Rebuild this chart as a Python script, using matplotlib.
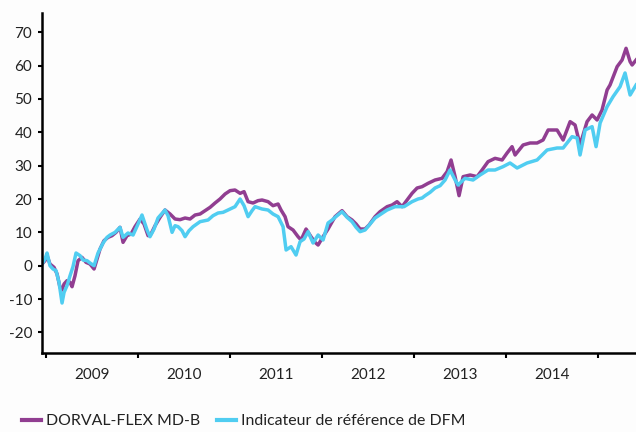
import matplotlib
matplotlib.use("Agg")
import matplotlib.pyplot as plt
import matplotlib.ticker as mticker
import pandas as pd
import numpy as np

plt.rcParams['font.family'] = ['Lato', 'DejaVu Sans']

# Decimal-year positions and cumulative performance (%)
fund_t = [2008.957, 2008.989, 2009.011, 2009.043, 2009.087, 2009.120, 2009.152, 2009.174,
          2009.196, 2009.228, 2009.261, 2009.283, 2009.315, 2009.348, 2009.391, 2009.435,
          2009.478, 2009.522, 2009.554, 2009.587, 2009.630, 2009.674, 2009.717, 2009.761,
          2009.804, 2009.837, 2009.880, 2009.924, 2009.967, 2010.022, 2010.065, 2010.109,
          2010.141, 2010.185, 2010.239, 2010.293, 2010.348, 2010.402, 2010.457, 2010.511,
          2010.565, 2010.620, 2010.674, 2010.728, 2010.783, 2010.837, 2010.891, 2010.946,
          2011.000, 2011.054, 2011.109, 2011.152, 2011.196, 2011.250, 2011.304, 2011.348,
          2011.413, 2011.467, 2011.522, 2011.554, 2011.598, 2011.630, 2011.685, 2011.739,
          2011.772, 2011.826, 2011.880, 2011.924, 2011.957, 2012.011, 2012.065, 2012.141,
          2012.217, 2012.272, 2012.326, 2012.370, 2012.413, 2012.467, 2012.511, 2012.576,
          2012.630, 2012.707, 2012.761, 2012.815, 2012.870, 2012.924, 2012.978, 2013.033,
          2013.087, 2013.152, 2013.228, 2013.304, 2013.359, 2013.402, 2013.446, 2013.489,
          2013.533, 2013.609, 2013.685, 2013.739, 2013.804, 2013.880, 2013.957, 2014.011,
          2014.065, 2014.098, 2014.185, 2014.261, 2014.337, 2014.402, 2014.457, 2014.554,
          2014.620, 2014.696, 2014.750, 2014.804, 2014.880, 2014.935, 2014.989, 2015.043,
          2015.098, 2015.130, 2015.207, 2015.261, 2015.304, 2015.348, 2015.370, 2015.413]
fund_v = [0.5, 1.5, 3.0, 0.5, -0.5, -2.5, -6.5, -7.3,
          -5.5, -4.5, -5.0, -6.3, -3.0, 1.5, 2.5, 1.0,
          0.5, -1.0, 2.0, 5.0, 7.5, 8.5, 9.0, 10.0,
          11.5, 7.0, 9.0, 9.5, 11.7, 14.0, 12.5, 9.0,
          9.5, 12.0, 14.5, 16.7, 15.5, 14.0, 13.8, 14.3,
          14.0, 15.2, 15.5, 16.5, 17.5, 18.8, 20.0, 21.5,
          22.5, 22.7, 21.7, 22.2, 19.2, 18.8, 19.5, 19.7,
          19.2, 18.0, 18.5, 16.7, 14.7, 11.7, 10.7, 8.7,
          7.7, 11.0, 8.7, 7.0, 6.2, 8.7, 11.0, 14.7,
          16.5, 14.7, 13.7, 12.5, 11.0, 11.0, 12.2, 14.7,
          16.2, 17.7, 18.2, 19.2, 17.7, 19.7, 21.7, 23.3,
          23.7, 24.7, 25.7, 26.2, 28.2, 31.7, 26.7, 21.0,
          26.7, 27.2, 26.7, 28.7, 31.2, 32.2, 31.7, 33.8,
          35.7, 33.2, 36.2, 36.8, 36.8, 37.7, 40.7, 40.7,
          37.7, 43.2, 42.2, 36.2, 43.2, 45.2, 43.7, 46.7,
          52.7, 54.2, 59.7, 61.7, 65.2, 61.2, 60.2, 61.7]

bench_t = [2008.957, 2008.989, 2009.011, 2009.043, 2009.076, 2009.109, 2009.141, 2009.174,
           2009.196, 2009.228, 2009.261, 2009.293, 2009.326, 2009.370, 2009.402, 2009.446,
           2009.478, 2009.522, 2009.565, 2009.620, 2009.663, 2009.696, 2009.750, 2009.804,
           2009.837, 2009.891, 2009.946, 2010.000, 2010.043, 2010.098, 2010.130, 2010.174,
           2010.217, 2010.293, 2010.326, 2010.370, 2010.402, 2010.435, 2010.478, 2010.511,
           2010.554, 2010.598, 2010.674, 2010.761, 2010.815, 2010.870, 2010.924, 2010.978,
           2011.054, 2011.109, 2011.152, 2011.196, 2011.239, 2011.272, 2011.348, 2011.413,
           2011.467, 2011.522, 2011.576, 2011.609, 2011.663, 2011.717, 2011.761, 2011.804,
           2011.848, 2011.902, 2011.957, 2012.011, 2012.065, 2012.109, 2012.163, 2012.217,
           2012.272, 2012.326, 2012.370, 2012.413, 2012.467, 2012.522, 2012.576, 2012.641,
           2012.707, 2012.793, 2012.891, 2012.978, 2013.043, 2013.087, 2013.120, 2013.174,
           2013.228, 2013.283, 2013.337, 2013.391, 2013.446, 2013.478, 2013.554, 2013.641,
           2013.717, 2013.804, 2013.880, 2013.967, 2014.043, 2014.120, 2014.228, 2014.337,
           2014.446, 2014.554, 2014.620, 2014.717, 2014.772, 2014.804, 2014.859, 2014.935,
           2014.978, 2015.022, 2015.098, 2015.163, 2015.239, 2015.293, 2015.348, 2015.413]
bench_v = [0.5, 2.0, 3.8, 0.0, -1.0, -1.5, -5.0, -11.2,
           -8.0, -6.0, -3.0, -0.3, 3.8, 3.0, 1.7, 1.5,
           0.8, 0.0, 3.8, 6.8, 8.5, 9.2, 10.0, 11.5,
           8.5, 9.8, 9.2, 12.5, 15.2, 10.7, 8.7, 11.0,
           14.3, 16.7, 15.0, 10.0, 12.0, 11.7, 10.5, 8.7,
           10.5, 11.7, 13.2, 13.7, 15.0, 15.8, 16.0, 16.7,
           17.7, 20.0, 18.0, 14.7, 16.5, 17.7, 17.0, 16.7,
           15.5, 14.7, 11.7, 4.7, 5.7, 3.2, 7.2, 8.0,
           10.2, 6.8, 9.2, 7.7, 12.8, 13.7, 15.0, 16.2,
           14.5, 13.2, 11.5, 10.2, 10.7, 12.5, 14.3, 15.5,
           16.7, 17.7, 17.7, 19.2, 20.0, 20.3, 21.0, 22.0,
           23.3, 24.0, 25.7, 28.7, 25.7, 24.2, 26.2, 25.7,
           27.2, 28.7, 28.7, 29.7, 30.8, 29.3, 30.8, 31.7,
           34.7, 35.3, 35.3, 38.7, 38.3, 33.2, 40.7, 41.7,
           35.7, 42.8, 47.7, 50.7, 53.7, 57.8, 51.2, 54.2]

series_names = ["DORVAL-FLEX MD-B", "Indicateur de référence de DFM"]
years = [2009, 2010, 2011, 2012, 2013, 2014]
y_ticks = [-20, -10, 0, 10, 20, 30, 40, 50, 60, 70]


def to_dates(t):
    t = np.asarray(t)
    base = pd.Timestamp("2009-01-01")
    return base + pd.to_timedelta((t - 2009) * 365.25, unit="D")


fig = plt.figure(figsize=(6.36, 4.32), dpi=100, facecolor="#fdfdfd")
ax = fig.add_axes([42 / 636, 1 - 352.7 / 432, 1 - 42 / 636, (352.7 - 13.3) / 432])
ax.set_facecolor("#fdfdfd")

ax.plot(to_dates(fund_t), fund_v, color="#913e91", lw=2.5, label=series_names[0])
ax.plot(to_dates(bench_t), bench_v, color="#50cdf1", lw=2.5, label=series_names[1])

ax.set_xlim(pd.Timestamp("2008-12-16"), pd.Timestamp("2015-06-01"))
ax.set_ylim(-26.1, 75.7)

for s in ["top", "right"]:
    ax.spines[s].set_visible(False)
for s in ["left", "bottom"]:
    ax.spines[s].set_linewidth(1.8)
    ax.spines[s].set_color("#000000")

ax.set_yticks(y_ticks)
ax.yaxis.set_major_formatter(mticker.FuncFormatter(lambda v, p: f"{int(v)}"))
ax.tick_params(axis="y", direction="out", length=3, width=1.5, pad=4,
               labelsize=11, colors="#000000", labelcolor="#222222")

major = [pd.Timestamp(f"{y}-01-01") for y in years + [years[-1] + 1]]
minor = [pd.Timestamp(f"{y}-07-02") for y in years]
ax.set_xticks(major)
ax.set_xticklabels([""] * len(major))
ax.set_xticks(minor, minor=True)
ax.set_xticklabels([str(y) for y in years], minor=True)
ax.tick_params(axis="x", which="major", direction="out", length=3.5, width=1.5, colors="#000000")
ax.tick_params(axis="x", which="minor", length=0, pad=11, labelsize=11, labelcolor="#222222")

handles, labels = ax.get_legend_handles_labels()
leg = fig.legend(handles, labels, loc="center left", bbox_to_anchor=(22 / 636, 1 - 421 / 432),
                 ncol=2, frameon=False, fontsize=11.4, handlelength=1.2, handletextpad=0.3,
                 columnspacing=1.1, borderpad=0, borderaxespad=0)
for line in leg.get_lines():
    line.set_linewidth(3.0)
for txt in leg.get_texts():
    txt.set_color("#222222")

fig.savefig("out.png", dpi=100, facecolor=fig.get_facecolor())
